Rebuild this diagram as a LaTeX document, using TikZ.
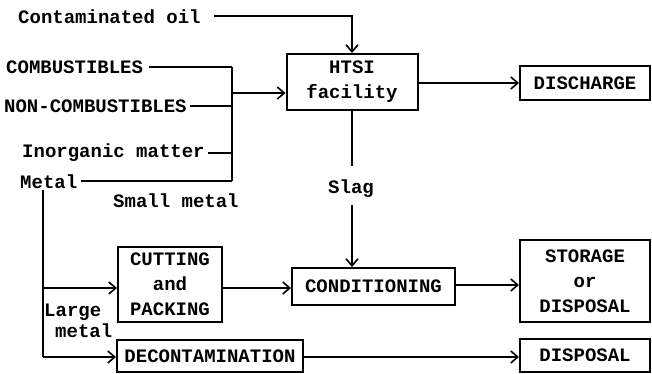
\documentclass[tikz,border=0pt]{standalone}
\usepackage{fontspec}
\setmainfont{Liberation Mono}
\usetikzlibrary{arrows.meta}
\begin{document}
\begin{tikzpicture}[x=1pt,y=-1pt,
  box/.style={draw,line width=2pt,inner sep=0pt,align=center,font=\fontsize{19}{25}\selectfont\bfseries},
  lbl/.style={inner sep=0pt,anchor=west,font=\fontsize{19}{25}\selectfont\bfseries},
  conn/.style={line width=1.8pt},
  arr/.style={conn,-{Straight Barb[length=7pt,width=12pt,line width=1.6pt]}}]
\useasboundingbox (0,0) rectangle (652,373);
% boxes
\node[box,minimum width=131pt,minimum height=56pt] (htsi) at (352,82) {HTSI\\facility};
\node[box,minimum width=130pt,minimum height=34pt] (dis) at (585,83) {DISCHARGE};
\node[box,minimum width=104pt,minimum height=75pt] (cut) at (170,284.5) {CUTTING\\and\\PACKING};
\node[box,minimum width=163pt,minimum height=37pt] (cond) at (373.5,286.5) {CONDITIONING};
\node[box,minimum width=130pt,minimum height=82pt] (stor) at (585,281) {STORAGE\\or\\DISPOSAL};
\node[box,minimum width=186pt,minimum height=32pt] (dec) at (210,356) {DECONTAMINATION};
\node[box,minimum width=130pt,minimum height=33pt] (disp) at (585,355.5) {DISPOSAL};
% labels
\node[lbl] (oil) at (18,17) {Contaminated oil};
\node[lbl] (comb) at (6,67) {COMBUSTIBLES};
\node[lbl] (ncomb) at (4,106) {NON-COMBUSTIBLES};
\node[lbl] (inorg) at (22,153) {Inorganic matter};
\node[lbl] (metal) at (20,182) {Metal};
\node[lbl] (small) at (113,201) {Small metal};
\node[lbl,anchor=center] (slag) at (351,189) {Slag};
\node[lbl] (large) at (44,312) {Large};
\node[lbl] (lmetal) at (55,331) {metal};
% coordinates
\coordinate (oilend) at (214,16);
\coordinate (oilcorner) at (352,16);
\coordinate (ca) at (232,67);
\coordinate (cb) at (232,106);
\coordinate (cc) at (232,153);
\coordinate (cd) at (232,181);
\coordinate (cm) at (232,93);
\coordinate (mtop) at (43,190);
\coordinate (mcut) at (43,288);
\coordinate (mdec) at (43,357);
\coordinate (slagtop) at (352,166);
\coordinate (slagbot) at (352,205);
% connectors
\draw[arr] (oilend) -- (oilcorner) -- (htsi.north);
\draw[conn] (comb.east) ++(6,0) -- (ca);
\draw[conn] (ncomb.east) ++(3,0) -- (cb);
\draw[conn] (inorg.east) ++(3,0) -- (cc);
\draw[conn] (metal.east) ++(4,-1) -- (cd);
\draw[conn] (ca) -- (cd);
\draw[arr] (cm) -- (cm -| htsi.west);
\draw[arr] (htsi.east |- dis.west) -- (dis.west);
\draw[conn] (htsi.south) -- (slagtop);
\draw[arr] (slagbot) -- (slagbot |- cond.north);
\draw[conn] (mtop) -- (mdec);
\draw[arr] (mcut) -- (mcut -| cut.west);
\draw[arr] (mdec) -- (mdec -| dec.west);
\draw[arr] (cut.east |- mcut) -- (cond.west |- mcut);
\draw[arr] (cond.east |- 0,285) -- (stor.west |- 0,285);
\draw[arr] (dec.east |- 0,357) -- (disp.west |- 0,357);
\end{tikzpicture}
\end{document}
